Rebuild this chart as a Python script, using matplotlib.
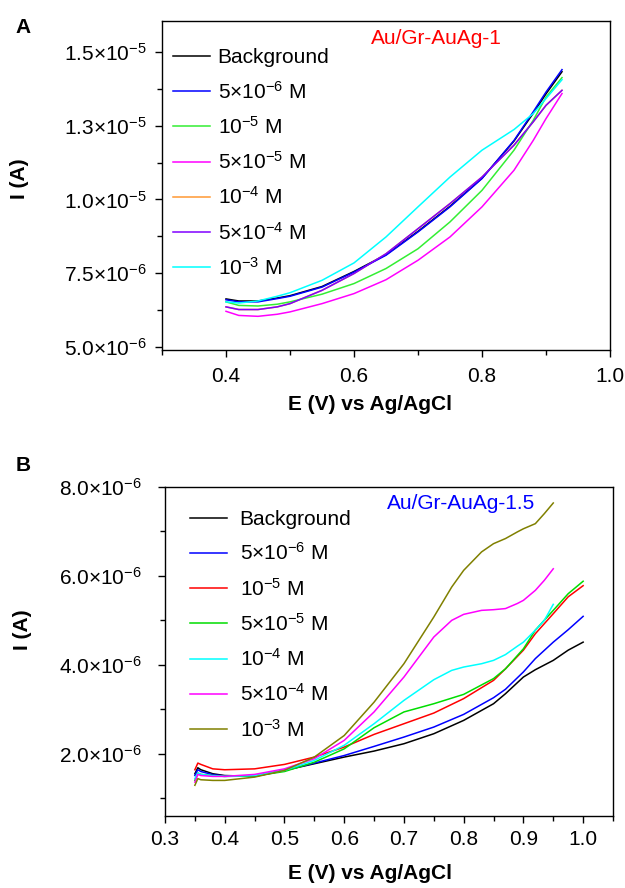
import matplotlib
matplotlib.use("Agg")
import matplotlib.pyplot as plt
from matplotlib.ticker import FixedLocator, FixedFormatter, MultipleLocator

plt.rcParams['font.family'] = ['Liberation Sans', 'DejaVu Sans']
plt.rcParams['mathtext.fontset'] = 'custom'
plt.rcParams['mathtext.rm'] = 'Liberation Sans'
plt.rcParams['mathtext.it'] = 'Liberation Sans:italic'
plt.rcParams['mathtext.bf'] = 'Liberation Sans:bold'

# ---------------- Panel A data (E in V, I in microamps) ----------------
a_labels = ["Background", r"5×10$^{-6}$ M", r"10$^{-5}$ M", r"5×10$^{-5}$ M",
            r"10$^{-4}$ M", r"5×10$^{-4}$ M", r"10$^{-3}$ M"]
a_colors = ["#000000", "#0000ff", "#33ee33", "#ff00ff", "#ff9933", "#8000ff", "#00ffff"]

a_x   = [0.40, 0.42, 0.45, 0.48, 0.50, 0.55, 0.60, 0.65, 0.70, 0.75, 0.80, 0.85, 0.88, 0.90, 0.925]
a_bg  = [6.63, 6.56, 6.56, 6.66, 6.74, 7.05, 7.56, 8.13, 8.92, 9.77, 10.72, 11.98, 12.92, 13.58, 14.33]
a_5e6 = [6.60, 6.53, 6.53, 6.64, 6.72, 7.03, 7.54, 8.11, 8.90, 9.75, 10.71, 12.00, 12.97, 13.64, 14.40]
a_1e5 = [6.53, 6.41, 6.39, 6.45, 6.53, 6.79, 7.15, 7.66, 8.33, 9.24, 10.31, 11.67, 12.68, 13.47, 14.13]
a_5e5 = [6.21, 6.07, 6.04, 6.11, 6.19, 6.47, 6.81, 7.28, 7.94, 8.73, 9.75, 10.99, 12.00, 12.74, 13.59]
a_1e4 = [6.36, 6.27, 6.27, 6.36, 6.47, 6.92, 7.49, 8.16, 9.01, 9.86, 10.76, 11.84, 12.63, 13.19, 13.70]
a_5e4 = [6.36, 6.27, 6.27, 6.36, 6.47, 6.92, 7.49, 8.16, 9.01, 9.86, 10.76, 11.84, 12.63, 13.19, 13.70]
a_1e3 = [6.53, 6.49, 6.56, 6.72, 6.84, 7.26, 7.85, 8.73, 9.75, 10.76, 11.67, 12.37, 12.91, 13.42, 14.06]
a_series = [a_bg, a_5e6, a_1e5, a_5e5, a_1e4, a_5e4, a_1e3]
a_order = [0, 4, 1, 2, 3, 5, 6]

a_yticks = [5.0e-6, 7.5e-6, 1.0e-5, 1.25e-5, 1.5e-5]
a_yticklabels = [r"5.0×10$^{-6}$", r"7.5×10$^{-6}$", r"1.0×10$^{-5}$",
                 r"1.3×10$^{-5}$", r"1.5×10$^{-5}$"]
a_xticks = [0.4, 0.6, 0.8, 1.0]

# ---------------- Panel B data (E in V, I in microamps) ----------------
b_labels = ["Background", r"5×10$^{-6}$ M", r"10$^{-5}$ M", r"5×10$^{-5}$ M",
            r"10$^{-4}$ M", r"5×10$^{-4}$ M", r"10$^{-3}$ M"]
b_colors = ["#000000", "#0000ff", "#ff0000", "#00dd00", "#00ffff", "#ff00ff", "#808000"]

b_x_long = [0.35, 0.355, 0.36, 0.38, 0.40, 0.45, 0.50, 0.55, 0.60, 0.65, 0.70, 0.75,
            0.80, 0.85, 0.87, 0.90, 0.92, 0.95, 0.975, 1.00]
b_bg  = [1.55, 1.685, 1.64, 1.55, 1.51, 1.49, 1.625, 1.775, 1.925, 2.06, 2.225, 2.45,
         2.75, 3.125, 3.35, 3.725, 3.89, 4.10, 4.33, 4.51]
b_5e6 = [1.51, 1.64, 1.60, 1.53, 1.50, 1.50, 1.625, 1.79, 1.96, 2.165, 2.375, 2.60,
         2.885, 3.26, 3.45, 3.84, 4.14, 4.51, 4.79, 5.09]
b_1e5 = [1.64, 1.79, 1.76, 1.66, 1.64, 1.66, 1.76, 1.925, 2.15, 2.435, 2.675, 2.915,
         3.24, 3.65, 3.91, 4.33, 4.70, 5.15, 5.53, 5.78]
b_5e5 = [1.40, 1.565, 1.535, 1.51, 1.49, 1.50, 1.60, 1.81, 2.11, 2.585, 2.94, 3.125,
         3.335, 3.69, 3.91, 4.36, 4.78, 5.225, 5.60, 5.88]

b_x_short = [0.35, 0.355, 0.36, 0.38, 0.40, 0.45, 0.50, 0.55, 0.60, 0.65, 0.70, 0.75,
             0.78, 0.80, 0.83, 0.85, 0.87, 0.89, 0.90, 0.92, 0.935, 0.95]
b_1e4 = [1.44, 1.565, 1.535, 1.505, 1.49, 1.51, 1.625, 1.85, 2.19, 2.675, 3.20, 3.665,
         3.875, 3.95, 4.025, 4.10, 4.23, 4.42, 4.51, 4.78, 5.00, 5.36]
b_5e4 = [1.36, 1.535, 1.51, 1.49, 1.49, 1.535, 1.66, 1.89, 2.30, 2.94, 3.725, 4.625,
         5.00, 5.135, 5.225, 5.24, 5.265, 5.38, 5.45, 5.675, 5.90, 6.16]
b_1e3 = [1.29, 1.44, 1.415, 1.40, 1.40, 1.475, 1.625, 1.925, 2.41, 3.16, 4.025, 5.075,
         5.75, 6.125, 6.54, 6.725, 6.84, 6.99, 7.06, 7.175, 7.40, 7.64]
b_series = [(b_x_long, b_bg), (b_x_long, b_5e6), (b_x_long, b_1e5), (b_x_long, b_5e5),
            (b_x_short, b_1e4), (b_x_short, b_5e4), (b_x_short, b_1e3)]

b_yticks = [2e-6, 4e-6, 6e-6, 8e-6]
b_yticklabels = [r"2.0×10$^{-6}$", r"4.0×10$^{-6}$", r"6.0×10$^{-6}$", r"8.0×10$^{-6}$"]
b_xticks = [0.3, 0.4, 0.5, 0.6, 0.7, 0.8, 0.9, 1.0]

fig = plt.figure(figsize=(6.25, 8.88), dpi=100)

def style(ax):
    for s in ax.spines.values():
        s.set_linewidth(1.0)
    ax.tick_params(which='major', direction='out', length=5, width=1.0, labelsize=15)
    ax.tick_params(which='minor', direction='out', length=3.5, width=1.0)

# ---------------- Panel A ----------------
axA = fig.add_axes([0.2592, 0.6059, 0.7168, 0.3705])
for i in a_order:
    axA.plot(a_x, [v * 1e-6 for v in a_series[i]], color=a_colors[i], lw=1.1)
axA.set_xlim(0.3, 1.0)
axA.set_ylim(4.9e-6, 1.605e-5)
axA.yaxis.set_major_locator(FixedLocator(a_yticks))
axA.yaxis.set_major_formatter(FixedFormatter(a_yticklabels))
axA.yaxis.set_minor_locator(FixedLocator([6.25e-6, 8.75e-6, 1.125e-5, 1.375e-5]))
axA.xaxis.set_major_locator(FixedLocator(a_xticks))
axA.xaxis.set_major_formatter(FixedFormatter(["0.4", "0.6", "0.8", "1.0"]))
axA.xaxis.set_minor_locator(FixedLocator([0.3, 0.5, 0.7, 0.9]))
style(axA)
axA.tick_params(axis='x', which='major', pad=7)
axA.tick_params(axis='y', which='major', pad=6)
axA.set_xlabel("E (V) vs Ag/AgCl", fontsize=15, fontweight='bold', va='center')
axA.xaxis.set_label_coords(0.464, -0.167)
axA.set_ylabel("I (A)", fontsize=15, fontweight='bold', va='center')
axA.yaxis.set_label_coords(-0.317, 0.52)
hA = [axA.lines[a_order.index(i)] for i in range(7)]
axA.legend(hA, a_labels, loc='upper left', bbox_to_anchor=(0.0246, 0.917),
           frameon=False, fontsize=15, handlelength=1.76, handletextpad=0.38,
           labelspacing=0.64, borderpad=0, borderaxespad=0)
axA.text(0.613, 0.948, "Au/Gr-AuAg-1", color='#ff0000', fontsize=15,
         ha='center', va='center', transform=axA.transAxes)

# ---------------- Panel B ----------------
axB = fig.add_axes([0.264, 0.0811, 0.7168, 0.3705])
for (xs, ys), c in zip(b_series, b_colors):
    axB.plot(xs, [v * 1e-6 for v in ys], color=c, lw=1.1)
axB.set_xlim(0.3, 1.05)
axB.set_ylim(0.6e-6, 8.0e-6)
axB.yaxis.set_major_locator(FixedLocator(b_yticks))
axB.yaxis.set_major_formatter(FixedFormatter(b_yticklabels))
axB.yaxis.set_minor_locator(FixedLocator([1e-6, 3e-6, 5e-6, 7e-6]))
axB.xaxis.set_major_locator(FixedLocator(b_xticks))
axB.xaxis.set_major_formatter(FixedFormatter([f"{v:.1f}" for v in b_xticks]))
axB.xaxis.set_minor_locator(MultipleLocator(0.05))
style(axB)
axB.tick_params(axis='x', which='major', pad=5)
axB.tick_params(axis='y', which='major', pad=12)
axB.set_xlabel("E (V) vs Ag/AgCl", fontsize=15, fontweight='bold', va='center')
axB.xaxis.set_label_coords(0.458, -0.176)
axB.set_ylabel("I (A)", fontsize=15, fontweight='bold', va='center')
axB.yaxis.set_label_coords(-0.317, 0.565)
axB.legend(axB.lines, b_labels, loc='upper left', bbox_to_anchor=(0.0558, 0.93),
           frameon=False, fontsize=15, handlelength=1.76, handletextpad=0.62,
           labelspacing=0.64, borderpad=0, borderaxespad=0)
axB.text(0.66, 0.951, "Au/Gr-AuAg-1.5", color='#0000ff', fontsize=15,
         ha='center', va='center', transform=axB.transAxes)

fig.text(23 / 625, 1 - 27.5 / 888, "A", fontsize=15, fontweight='bold', ha='center', va='center')
fig.text(23 / 625, 1 - 465 / 888, "B", fontsize=15, fontweight='bold', ha='center', va='center')

fig.savefig("out.png", dpi=100)
